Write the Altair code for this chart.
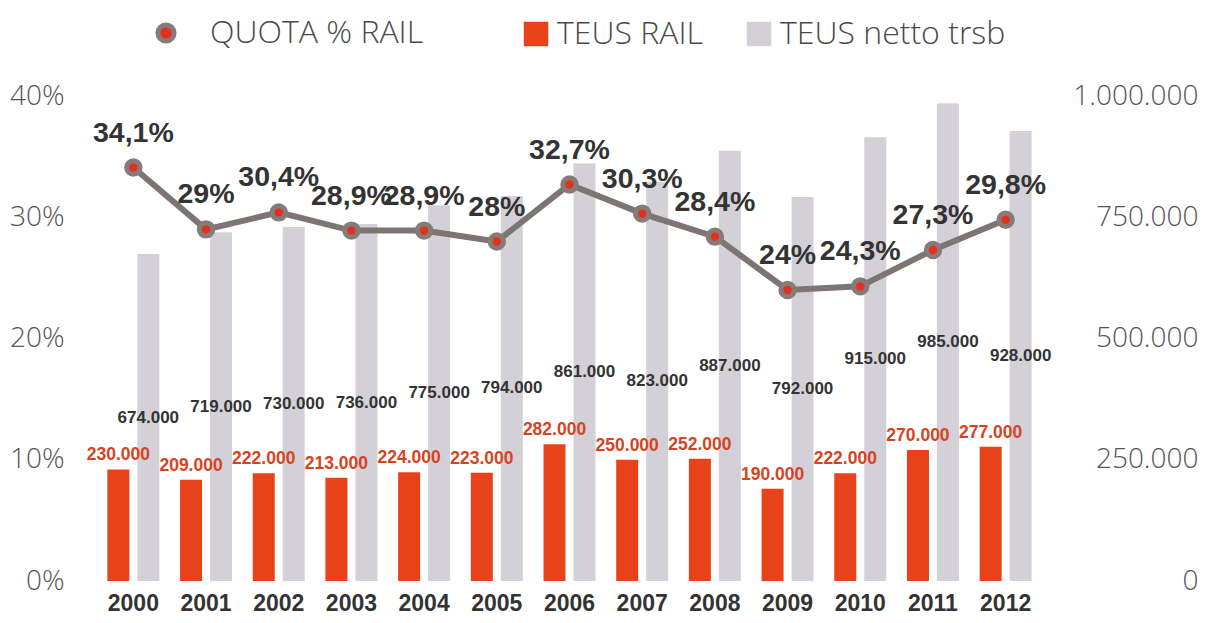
import altair as alt
import pandas as pd

years = [str(y) for y in range(2000, 2013)]
quota_pct = [34.1, 29.0, 30.4, 28.9, 28.9, 28.0, 32.7, 30.3, 28.4, 24.0, 24.3, 27.3, 29.8]
teus_rail = [230000, 209000, 222000, 213000, 224000, 223000, 282000, 250000, 252000, 190000, 222000, 270000, 277000]
teus_netto = [674000, 719000, 730000, 736000, 775000, 794000, 861000, 823000, 887000, 792000, 915000, 985000, 928000]

S_LINE = "QUOTA % RAIL"
S_RAIL = "TEUS RAIL"
S_NET = "TEUS netto trsb"

ORANGE = "#e8421b"
GRAY = "#d4d0d8"
LINE_C = "#7d7474"
DOT_FILL = "#e2301c"
DOT_RING = "#877b79"
LIGHT_FONT = "Open Sans"


def fmt_int(v):
    return f"{v:,}".replace(",", ".")


def fmt_pct(v):
    return f"{v:g}".replace(".", ",") + "%"


rows = []
for y, r, n in zip(years, teus_rail, teus_netto):
    rows.append({"year": y, "series": S_RAIL, "value": r, "half": r / 2, "label": fmt_int(r)})
    rows.append({"year": y, "series": S_NET, "value": n, "half": n / 2, "label": fmt_int(n)})
bars_df = pd.DataFrame(rows)

line_df = pd.DataFrame({
    "year": years,
    "pct": quota_pct,
    "label": [fmt_pct(v) for v in quota_pct],
    "leg": [S_LINE] * len(years),
})

x_enc = alt.X(
    "year:N",
    scale=alt.Scale(paddingInner=0.175, paddingOuter=0.0875),
    axis=alt.Axis(
        title=None, labelAngle=0, labelFont="Liberation Sans", labelFontWeight="bold",
        labelFontSize=23, labelColor="#333333", labelPadding=11, ticks=False, tickSize=0,
        domain=False, grid=False,
    ),
)
xoff = alt.XOffset(
    "series:N",
    sort=[S_RAIL, S_NET],
    scale=alt.Scale(domain=[S_RAIL, S_NET], paddingInner=0, paddingOuter=0),
)

y_right = alt.Y(
    "value:Q",
    scale=alt.Scale(domain=[0, 1000000], nice=False),
    axis=alt.Axis(
        orient="right", title=None, values=[0, 250000, 500000, 750000, 1000000],
        labelExpr="replace(format(datum.value, ','), regexp(',', 'g'), '.')",
        labelFont=LIGHT_FONT, labelFontWeight=300, labelFontSize=28, labelColor="#555555",
        labelAlign="right", labelPadding=156, ticks=False, tickSize=0, domain=False, grid=False,
    ),
)

legend_font = dict(labelFont=LIGHT_FONT, labelFontWeight=300, labelFontSize=32,
                   labelColor="#4a4a4a", labelLimit=400, padding=0, title=None)

base_bars = alt.Chart(bars_df)

bars = base_bars.mark_bar(width=22).encode(
    x=x_enc,
    xOffset=xoff,
    y=y_right,
    fill=alt.Fill(
        "series:N",
        scale=alt.Scale(domain=[S_RAIL, S_NET], range=[ORANGE, GRAY]),
        legend=alt.Legend(
            orient="none", legendX=423, legendY=-78, direction="horizontal",
            symbolType="square", symbolSize=600, symbolStrokeWidth=0, labelOffset=5,
            columnPadding=40, **legend_font,
        ),
    ),
)

rail_labels = base_bars.transform_filter(alt.datum.series == S_RAIL).mark_text(
    dy=-14, font="Liberation Sans", fontWeight="bold", fontSize=17.5, color="#d8431f"
).encode(x=x_enc, xOffset=xoff, y=alt.Y("value:Q"), text="label:N")

net_labels = base_bars.transform_filter(alt.datum.series == S_NET).mark_text(
    font="Liberation Sans", fontWeight="bold", fontSize=17, color="#333333"
).encode(x=x_enc, xOffset=xoff, y=alt.Y("half:Q"), text="label:N")

bar_layer = alt.layer(bars, rail_labels, net_labels)

y_left = alt.Y(
    "pct:Q",
    scale=alt.Scale(domain=[0, 40], nice=False),
    axis=alt.Axis(
        orient="left", title=None, values=[0, 10, 20, 30, 40], labelExpr="datum.value + '%'",
        labelFont=LIGHT_FONT, labelFontWeight=300, labelFontSize=28, labelColor="#555555",
        labelPadding=33, ticks=False, tickSize=0, domain=False, grid=False,
    ),
)

dot_legend = alt.Legend(
    orient="none", legendX=53, legendY=-79, symbolSize=260, symbolStrokeWidth=5,
    labelOffset=28, **legend_font,
)

base_line = alt.Chart(line_df)
line = base_line.mark_line(color=LINE_C, strokeWidth=6).encode(x=x_enc, y=y_left)
points = base_line.mark_point(
    filled=True, strokeWidth=5, size=180, opacity=1
).encode(
    x=x_enc,
    y=alt.Y("pct:Q"),
    shape=alt.Shape("leg:N", scale=alt.Scale(domain=[S_LINE], range=["circle"]), legend=dot_legend),
    fill=alt.Fill("leg:N", scale=alt.Scale(domain=[S_LINE], range=[DOT_FILL]), legend=dot_legend),
    stroke=alt.Stroke("leg:N", scale=alt.Scale(domain=[S_LINE], range=[DOT_RING]), legend=dot_legend),
)
pct_labels = base_line.mark_text(
    dy=-35, font="Liberation Sans", fontWeight="bold", fontSize=28.5, color="#333333"
).encode(x=x_enc, y=alt.Y("pct:Q"), text="label:N")

line_layer = alt.layer(line, points, pct_labels)

chart = alt.layer(bar_layer, line_layer).resolve_scale(
    y="independent", fill="independent", shape="independent", stroke="independent"
).properties(
    width=945, height=485,
    autosize=alt.AutoSizeParams(type="none"),
    padding={"left": 89, "top": 88, "right": 162, "bottom": 34},
    background="white",
).configure_view(stroke=None)

chart.save("out.html", embed_options={"renderer": "svg", "actions": False})
